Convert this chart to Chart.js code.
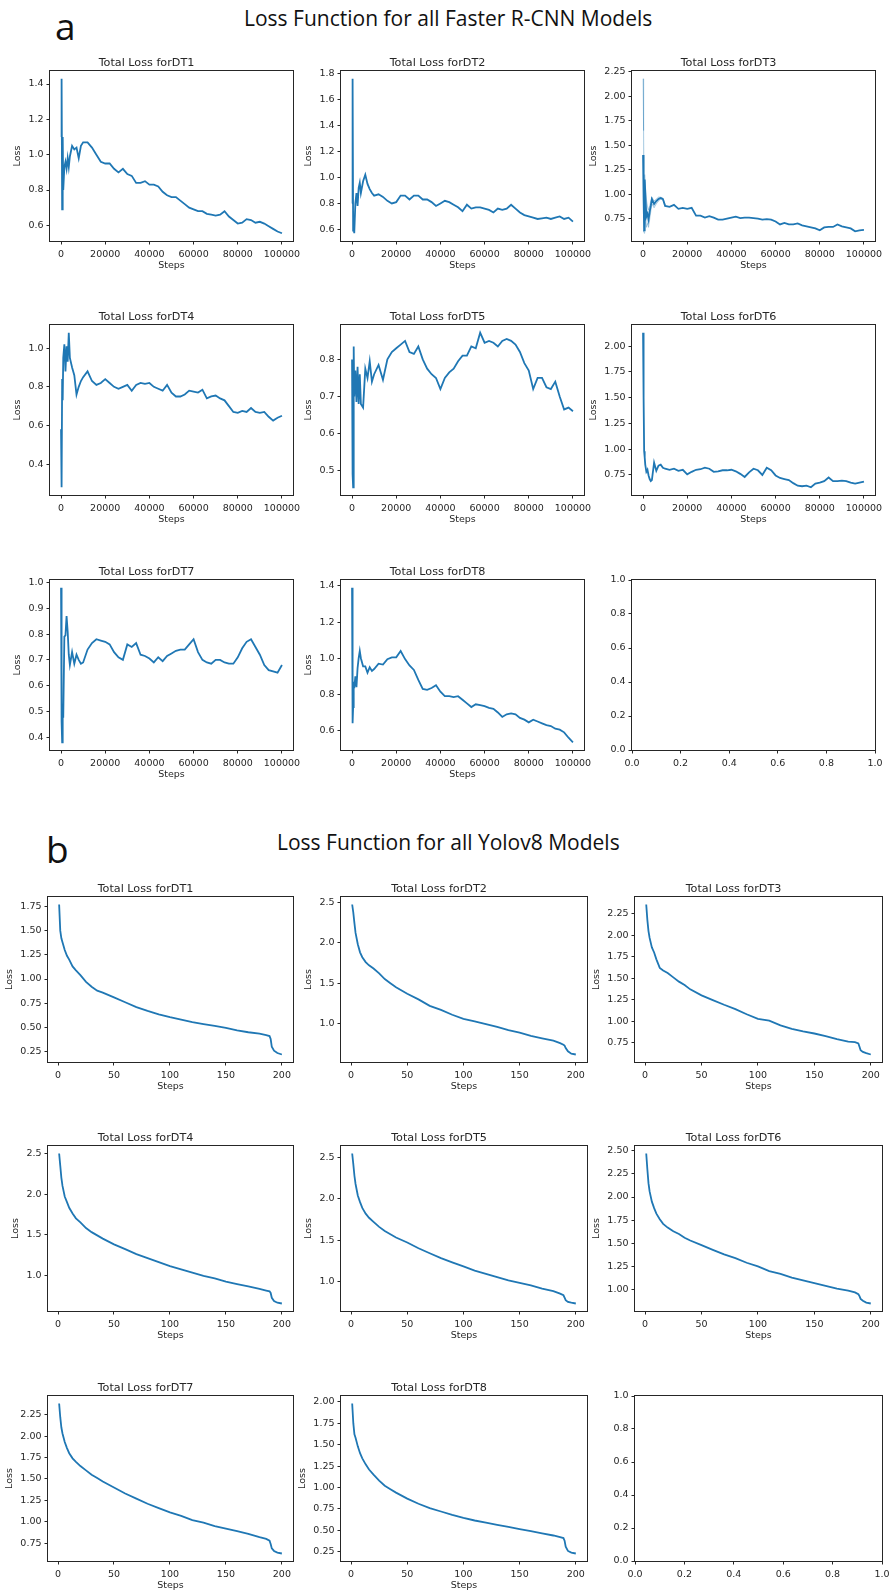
<!DOCTYPE html>
<html>
<head>
<meta charset="utf-8">
<script src="https://cdn.jsdelivr.net/npm/chart.js@4.4.1/dist/chart.umd.min.js"></script>
<style>
  body { margin: 0; background: #fff; width: 896px; height: 1593px; position: relative; overflow: hidden; }
  canvas { position: absolute; }
  .lbl { position: absolute; line-height: 1; white-space: nowrap; font-family: 'Open Sans'; color: #111; }
</style>
</head>
<body>
<div class="lbl" style="left:55px;top:7px;font-size:37px">a</div>
<div class="lbl" style="left:244px;top:8px;font-size:21px">Loss Function for all Faster R-CNN Models</div>
<div class="lbl" style="left:46px;top:830px;font-size:37px">b</div>
<div class="lbl" style="left:277px;top:832px;font-size:21px">Loss Function for all Yolov8 Models</div>
<script>
// ---- data ----
const rcnnSteps = [0, 250, 500, 750, 1000, 1500, 2000, 2500, 3000, 3500, 4000, 5000, 6000, 7000, 8000, 9000, 10000,
  12000, 14000, 16000, 18000, 20000, 22000, 24000, 26000, 28000, 30000, 32000, 34000, 36000, 38000, 40000,
  42000, 44000, 46000, 48000, 50000, 52000, 54000, 56000, 58000, 60000, 62000, 64000, 66000, 68000, 70000,
  72000, 74000, 76000, 78000, 80000, 82000, 84000, 86000, 88000, 90000, 92000, 94000, 96000, 98000, 100000];

const rcnnDT1 = [1.10, 1.43, 0.69, 1.10, 0.80, 0.93, 0.96, 0.92, 0.98, 0.93, 0.99, 1.05, 1.03, 1.04, 0.98, 1.05, 1.07,
  1.07, 1.04, 1.00, 0.96, 0.95, 0.95, 0.92, 0.90, 0.92, 0.89, 0.88, 0.84, 0.84, 0.85, 0.83,
  0.83, 0.82, 0.79, 0.77, 0.76, 0.76, 0.74, 0.72, 0.70, 0.69, 0.68, 0.68, 0.665, 0.66, 0.655,
  0.66, 0.68, 0.65, 0.63, 0.61, 0.615, 0.635, 0.63, 0.615, 0.62, 0.61, 0.595, 0.58, 0.565, 0.555];
const rcnnDT2 = [0.80, 1.76, 0.59, 0.62, 0.57, 0.80, 0.88, 0.78, 0.92, 0.96, 0.88, 0.97, 1.02, 0.95, 0.91, 0.88, 0.86,
  0.87, 0.85, 0.82, 0.80, 0.81, 0.86, 0.86, 0.83, 0.86, 0.86, 0.83, 0.83, 0.81, 0.78, 0.80,
  0.82, 0.81, 0.79, 0.77, 0.74, 0.79, 0.76, 0.77, 0.77, 0.76, 0.75, 0.73, 0.76, 0.75, 0.76,
  0.79, 0.76, 0.73, 0.71, 0.70, 0.69, 0.68, 0.685, 0.69, 0.68, 0.69, 0.70, 0.68, 0.69, 0.66];
const rcnnDT3 = [1.40, 0.95, 0.63, 1.15, 1.02, 0.77, 0.80, 0.74, 0.82, 0.88, 0.95, 0.90, 0.93, 0.95, 0.96, 0.95, 0.88,
  0.87, 0.89, 0.85, 0.86, 0.85, 0.86, 0.78, 0.78, 0.76, 0.775, 0.76, 0.74, 0.74, 0.75, 0.76,
  0.77, 0.755, 0.76, 0.76, 0.755, 0.75, 0.74, 0.745, 0.74, 0.72, 0.69, 0.705, 0.69, 0.69, 0.70,
  0.68, 0.67, 0.66, 0.65, 0.63, 0.66, 0.665, 0.665, 0.69, 0.67, 0.66, 0.65, 0.62, 0.63, 0.635];
const rcnnDT3BandHigh = [2.18, 1.65, 1.05, 1.20, 1.10, 0.95, 0.88, 0.84, 0.88, 0.93, 0.97, 0.93, 0.95, 0.97, 0.97, 0.96, 0.89];
const rcnnDT3BandLow = [0.62, 0.63, 0.60, 0.88, 0.72, 0.66, 0.70, 0.66, 0.74, 0.82, 0.90, 0.86, 0.90, 0.93, 0.95, 0.94, 0.87];
const rcnnDT4 = [0.58, 0.28, 0.84, 0.73, 0.95, 1.02, 0.88, 1.01, 0.93, 1.08, 0.95, 0.90, 0.86, 0.76, 0.80, 0.83, 0.85,
  0.88, 0.83, 0.81, 0.82, 0.84, 0.82, 0.80, 0.79, 0.80, 0.81, 0.78, 0.81, 0.82, 0.815, 0.82,
  0.80, 0.79, 0.78, 0.81, 0.77, 0.75, 0.75, 0.76, 0.78, 0.775, 0.77, 0.785, 0.74, 0.75, 0.755,
  0.74, 0.73, 0.70, 0.67, 0.665, 0.675, 0.67, 0.69, 0.67, 0.665, 0.67, 0.645, 0.625, 0.64, 0.65];
const rcnnDT5 = [0.80, 0.49, 0.455, 0.835, 0.70, 0.77, 0.685, 0.78, 0.68, 0.76, 0.68, 0.67, 0.775, 0.75, 0.795, 0.74, 0.76,
  0.785, 0.745, 0.80, 0.82, 0.83, 0.84, 0.85, 0.82, 0.815, 0.835, 0.80, 0.775, 0.76, 0.75, 0.72,
  0.75, 0.765, 0.775, 0.795, 0.81, 0.81, 0.835, 0.83, 0.872, 0.845, 0.85, 0.845, 0.835, 0.85, 0.855,
  0.85, 0.84, 0.82, 0.79, 0.77, 0.72, 0.75, 0.75, 0.725, 0.72, 0.74, 0.70, 0.665, 0.67, 0.66];
const rcnnDT6 = [2.13, 1.50, 0.98, 0.92, 0.85, 0.78, 0.80, 0.745, 0.71, 0.69, 0.70, 0.87, 0.79, 0.84, 0.85, 0.82, 0.81,
  0.80, 0.81, 0.79, 0.80, 0.755, 0.78, 0.80, 0.805, 0.82, 0.81, 0.78, 0.785, 0.795, 0.795, 0.80,
  0.785, 0.76, 0.73, 0.775, 0.81, 0.795, 0.75, 0.82, 0.795, 0.745, 0.72, 0.71, 0.70, 0.67, 0.645,
  0.64, 0.645, 0.63, 0.665, 0.675, 0.69, 0.725, 0.69, 0.69, 0.695, 0.69, 0.675, 0.665, 0.675, 0.685];
const rcnnDT7 = [0.98, 0.46, 0.38, 0.53, 0.475, 0.79, 0.795, 0.87, 0.81, 0.72, 0.68, 0.73, 0.685, 0.72, 0.70, 0.685, 0.69,
  0.74, 0.765, 0.78, 0.775, 0.77, 0.76, 0.73, 0.71, 0.70, 0.76, 0.75, 0.765, 0.72, 0.715, 0.705,
  0.69, 0.71, 0.695, 0.715, 0.725, 0.735, 0.74, 0.74, 0.76, 0.78, 0.73, 0.70, 0.69, 0.685, 0.70,
  0.70, 0.69, 0.685, 0.685, 0.71, 0.745, 0.77, 0.78, 0.75, 0.72, 0.68, 0.66, 0.655, 0.65, 0.68];
const rcnnDT8 = [1.39, 0.64, 0.73, 0.87, 0.835, 0.90, 0.84, 0.945, 1.00, 1.04, 1.00, 0.955, 0.955, 0.92, 0.95, 0.93, 0.94,
  0.97, 0.965, 0.995, 1.005, 1.005, 1.04, 0.995, 0.96, 0.935, 0.88, 0.83, 0.825, 0.835, 0.85, 0.815,
  0.79, 0.79, 0.785, 0.79, 0.77, 0.75, 0.73, 0.745, 0.74, 0.735, 0.725, 0.72, 0.70, 0.675, 0.69,
  0.695, 0.69, 0.67, 0.66, 0.645, 0.66, 0.65, 0.64, 0.63, 0.625, 0.61, 0.605, 0.59, 0.56, 0.535];

const yoloEpochs = [1, 2, 3, 4, 6, 8, 10, 13, 16, 20, 25, 30, 35, 40, 50, 60, 70, 80, 90, 100,
  110, 120, 130, 140, 150, 160, 170, 180, 186, 189, 190, 191, 193, 196, 200];

const yoloDT1 = [1.77, 1.50, 1.42, 1.38, 1.30, 1.24, 1.20, 1.13, 1.09, 1.04, 0.97, 0.92, 0.88, 0.86, 0.81, 0.76, 0.71, 0.67, 0.635, 0.605,
  0.58, 0.555, 0.535, 0.515, 0.495, 0.47, 0.45, 0.435, 0.42, 0.41, 0.38, 0.30, 0.26, 0.235, 0.22];
const yoloDT2 = [2.47, 2.37, 2.24, 2.12, 1.98, 1.88, 1.82, 1.76, 1.72, 1.68, 1.62, 1.55, 1.50, 1.45, 1.37, 1.30, 1.22, 1.17, 1.11, 1.06,
  1.03, 0.995, 0.96, 0.92, 0.89, 0.85, 0.82, 0.79, 0.76, 0.74, 0.73, 0.70, 0.66, 0.63, 0.62];
const yoloDT3 = [2.36, 2.18, 2.05, 1.97, 1.86, 1.80, 1.72, 1.62, 1.59, 1.56, 1.51, 1.46, 1.42, 1.37, 1.30, 1.245, 1.19, 1.14, 1.08, 1.025,
  1.005, 0.95, 0.91, 0.88, 0.855, 0.825, 0.79, 0.76, 0.755, 0.74, 0.70, 0.66, 0.64, 0.625, 0.61];
const yoloDT4 = [2.50, 2.35, 2.20, 2.10, 1.97, 1.90, 1.83, 1.76, 1.70, 1.65, 1.58, 1.53, 1.49, 1.45, 1.38, 1.32, 1.26, 1.21, 1.16, 1.11,
  1.07, 1.03, 0.99, 0.96, 0.92, 0.89, 0.86, 0.83, 0.81, 0.80, 0.78, 0.72, 0.68, 0.66, 0.65];
const yoloDT5 = [2.55, 2.42, 2.28, 2.18, 2.04, 1.96, 1.89, 1.82, 1.77, 1.72, 1.66, 1.61, 1.57, 1.53, 1.47, 1.40, 1.34, 1.28, 1.23, 1.18,
  1.13, 1.09, 1.05, 1.01, 0.98, 0.95, 0.91, 0.88, 0.85, 0.83, 0.80, 0.77, 0.75, 0.74, 0.73];
const yoloDT6 = [2.47, 2.30, 2.15, 2.06, 1.95, 1.88, 1.82, 1.76, 1.71, 1.67, 1.63, 1.60, 1.56, 1.53, 1.48, 1.43, 1.38, 1.34, 1.29, 1.25,
  1.20, 1.17, 1.13, 1.10, 1.07, 1.04, 1.01, 0.99, 0.97, 0.95, 0.93, 0.90, 0.88, 0.86, 0.85];
const yoloDT7 = [2.38, 2.22, 2.10, 2.03, 1.93, 1.86, 1.80, 1.74, 1.70, 1.65, 1.60, 1.55, 1.51, 1.47, 1.40, 1.33, 1.27, 1.21, 1.16, 1.11,
  1.07, 1.02, 0.99, 0.95, 0.92, 0.89, 0.86, 0.82, 0.80, 0.78, 0.74, 0.69, 0.66, 0.64, 0.63];
const yoloDT8 = [1.98, 1.75, 1.62, 1.58, 1.48, 1.40, 1.34, 1.27, 1.21, 1.15, 1.08, 1.02, 0.98, 0.94, 0.87, 0.81, 0.76, 0.72, 0.68, 0.645,
  0.615, 0.59, 0.565, 0.54, 0.515, 0.49, 0.465, 0.44, 0.42, 0.41, 0.38, 0.31, 0.26, 0.24, 0.23];

// tick labels
const rcnnXTicks = ['0', '20000', '40000', '60000', '80000', '100000'];
const yoloXTicks = ['0', '50', '100', '150', '200'];
const unitTicks = ['0.0', '0.2', '0.4', '0.6', '0.8', '1.0'];
const rcnnYTicks1 = ['0.6', '0.8', '1.0', '1.2', '1.4'];
const rcnnYTicks2 = ['0.6', '0.8', '1.0', '1.2', '1.4', '1.6', '1.8'];
const rcnnYTicks3 = ['0.75', '1.00', '1.25', '1.50', '1.75', '2.00', '2.25'];
const rcnnYTicks4 = ['0.4', '0.6', '0.8', '1.0'];
const rcnnYTicks5 = ['0.5', '0.6', '0.7', '0.8'];
const rcnnYTicks6 = ['0.75', '1.00', '1.25', '1.50', '1.75', '2.00'];
const rcnnYTicks7 = ['0.4', '0.5', '0.6', '0.7', '0.8', '0.9', '1.0'];
const rcnnYTicks8 = ['0.6', '0.8', '1.0', '1.2', '1.4'];
const yoloYTicks1 = ['0.25', '0.50', '0.75', '1.00', '1.25', '1.50', '1.75'];
const yoloYTicks2 = ['1.0', '1.5', '2.0', '2.5'];
const yoloYTicks3 = ['0.75', '1.00', '1.25', '1.50', '1.75', '2.00', '2.25'];
const yoloYTicks4 = ['1.0', '1.5', '2.0', '2.5'];
const yoloYTicks5 = ['1.0', '1.5', '2.0', '2.5'];
const yoloYTicks6 = ['1.00', '1.25', '1.50', '1.75', '2.00', '2.25', '2.50'];
const yoloYTicks7 = ['0.75', '1.00', '1.25', '1.50', '1.75', '2.00', '2.25'];
const yoloYTicks8 = ['0.25', '0.50', '0.75', '1.00', '1.25', '1.50', '1.75', '2.00'];

// ---- layout ----
const aCols = [50, 341, 632], aRows = [71, 325, 580], aW = 243, aH = 170;
const bCols = [48, 341, 635], bRows = [897, 1146, 1396], bWidths = [245, 246, 247], bH = 165;
const PAD_L = 50, PAD_T = 21, PAD_R = 24, PAD_B = 38;
const ink = '#262626';
const lineBlue = '#1f77b4';
const tickFont = { family: 'DejaVu Sans', size: 9.5 };
const labelFont = { family: 'DejaVu Sans', size: 9.5 };

const measure = document.createElement('canvas').getContext('2d');
measure.font = '9.5px "DejaVu Sans"';

// matplotlib style closed frame round the plot area
const frame = {
  id: 'frame',
  afterDraw(chart) {
    const { ctx, chartArea: a } = chart;
    ctx.save();
    ctx.strokeStyle = ink;
    ctx.lineWidth = 1;
    ctx.strokeRect(Math.round(a.left) - 0.5, Math.round(a.top) - 0.5, Math.round(a.right - a.left) + 1, Math.round(a.bottom - a.top) + 1);
    ctx.restore();
  }
};

function padRange(values) {
  const lo = Math.min(...values), hi = Math.max(...values);
  const m = (hi - lo) * 0.05;
  return [lo - m, hi + m];
}

function makePlot(p) {
  const canvas = document.createElement('canvas');
  canvas.width = p.width + PAD_L + PAD_R;
  canvas.height = p.height + PAD_T + PAD_B;
  canvas.style.left = (p.left - PAD_L) + 'px';
  canvas.style.top = (p.top - PAD_T) + 'px';
  document.body.appendChild(canvas);

  const hasData = !!p.ys;
  const datasets = [];
  let xr = [0, 1], yr = [0, 1];
  if (hasData) {
    datasets.push({
      data: p.xs.map((x, i) => ({ x, y: p.ys[i] })),
      borderColor: lineBlue, borderWidth: 1.8, pointRadius: 0, fill: false, order: 0
    });
    let allY = p.ys.slice();
    if (p.bandHigh) {
      datasets.push({
        data: p.bandHigh.map((y, i) => ({ x: p.xs[i], y })),
        borderColor: 'rgba(31,119,180,0.3)', borderWidth: 1, pointRadius: 0,
        fill: '+1', backgroundColor: 'rgba(31,119,180,0.2)', order: 1
      });
      datasets.push({
        data: p.bandLow.map((y, i) => ({ x: p.xs[i], y })),
        borderColor: 'rgba(31,119,180,0.3)', borderWidth: 1, pointRadius: 0, fill: false, order: 2
      });
      allY = allY.concat(p.bandHigh, p.bandLow);
    }
    xr = padRange(p.xs);
    yr = padRange(allY);
  }

  const yVals = p.yTicks.map(Number);
  const xVals = p.xTicks.map(Number);
  const widest = Math.max(...p.yTicks.map(t => measure.measureText(t).width));
  const lossGap = widest + 17.5;

  new Chart(canvas, {
    type: 'line',
    data: { datasets },
    options: {
      responsive: false,
      animation: false,
      devicePixelRatio: 1,
      layout: { padding: { left: 0, right: PAD_R, top: p.title ? 0 : PAD_T, bottom: 0 }, autoPadding: false },
      elements: { line: { tension: 0 } },
      plugins: {
        legend: { display: false },
        tooltip: { enabled: false },
        title: {
          display: !!p.title, text: p.title || '', color: ink,
          font: { family: 'DejaVu Sans', size: 11.2, weight: 'normal' },
          padding: { top: PAD_T - 11.2 * 1.2 - 1.5, bottom: 1.5 }
        }
      },
      scales: {
        x: {
          type: 'linear', min: xr[0], max: xr[1],
          afterBuildTicks: s => { s.ticks = xVals.map(v => ({ value: v })); },
          afterFit: s => { s.height = PAD_B; },
          ticks: { callback: (v, i) => p.xTicks[i], font: tickFont, color: ink, padding: 4, autoSkip: false, maxRotation: 0 },
          grid: { display: true, drawOnChartArea: false, drawTicks: true, tickLength: 3.5, color: ink, lineWidth: 1 },
          border: { display: false },
          title: { display: hasData, text: 'Steps', font: labelFont, color: ink, padding: { top: 0, bottom: 7.4 } }
        },
        y: {
          type: 'linear', min: yr[0], max: yr[1],
          afterBuildTicks: s => { s.ticks = yVals.map(v => ({ value: v })); },
          afterFit: s => { s.width = PAD_L; },
          ticks: { callback: (v, i) => p.yTicks[i], font: tickFont, color: ink, padding: 3, autoSkip: false },
          grid: { display: true, drawOnChartArea: false, drawTicks: true, tickLength: 3.5, color: ink, lineWidth: 1 },
          border: { display: false },
          title: { display: hasData, text: 'Loss', font: labelFont, color: ink, padding: { top: PAD_L - lossGap - 5.7, bottom: 0 } }
        }
      }
    },
    plugins: [frame]
  });
}

const rcnnPlots = [
  { title: 'Total Loss forDT1', ys: rcnnDT1, yTicks: rcnnYTicks1 },
  { title: 'Total Loss forDT2', ys: rcnnDT2, yTicks: rcnnYTicks2 },
  { title: 'Total Loss forDT3', ys: rcnnDT3, yTicks: rcnnYTicks3, bandHigh: rcnnDT3BandHigh, bandLow: rcnnDT3BandLow },
  { title: 'Total Loss forDT4', ys: rcnnDT4, yTicks: rcnnYTicks4 },
  { title: 'Total Loss forDT5', ys: rcnnDT5, yTicks: rcnnYTicks5 },
  { title: 'Total Loss forDT6', ys: rcnnDT6, yTicks: rcnnYTicks6 },
  { title: 'Total Loss forDT7', ys: rcnnDT7, yTicks: rcnnYTicks7 },
  { title: 'Total Loss forDT8', ys: rcnnDT8, yTicks: rcnnYTicks8 },
  { title: null, ys: null, yTicks: unitTicks }
];
const yoloPlots = [
  { title: 'Total Loss forDT1', ys: yoloDT1, yTicks: yoloYTicks1 },
  { title: 'Total Loss forDT2', ys: yoloDT2, yTicks: yoloYTicks2 },
  { title: 'Total Loss forDT3', ys: yoloDT3, yTicks: yoloYTicks3 },
  { title: 'Total Loss forDT4', ys: yoloDT4, yTicks: yoloYTicks4 },
  { title: 'Total Loss forDT5', ys: yoloDT5, yTicks: yoloYTicks5 },
  { title: 'Total Loss forDT6', ys: yoloDT6, yTicks: yoloYTicks6 },
  { title: 'Total Loss forDT7', ys: yoloDT7, yTicks: yoloYTicks7 },
  { title: 'Total Loss forDT8', ys: yoloDT8, yTicks: yoloYTicks8 },
  { title: null, ys: null, yTicks: unitTicks }
];

rcnnPlots.forEach((p, i) => {
  const c = i % 3, r = Math.floor(i / 3);
  makePlot(Object.assign({}, p, {
    xs: rcnnSteps, xTicks: p.ys ? rcnnXTicks : unitTicks,
    left: aCols[c], top: aRows[r], width: aW, height: aH
  }));
});
yoloPlots.forEach((p, i) => {
  const c = i % 3, r = Math.floor(i / 3);
  makePlot(Object.assign({}, p, {
    xs: yoloEpochs, xTicks: p.ys ? yoloXTicks : unitTicks,
    left: bCols[c], top: bRows[r], width: bWidths[c], height: bH
  }));
});
</script>
</body>
</html>
